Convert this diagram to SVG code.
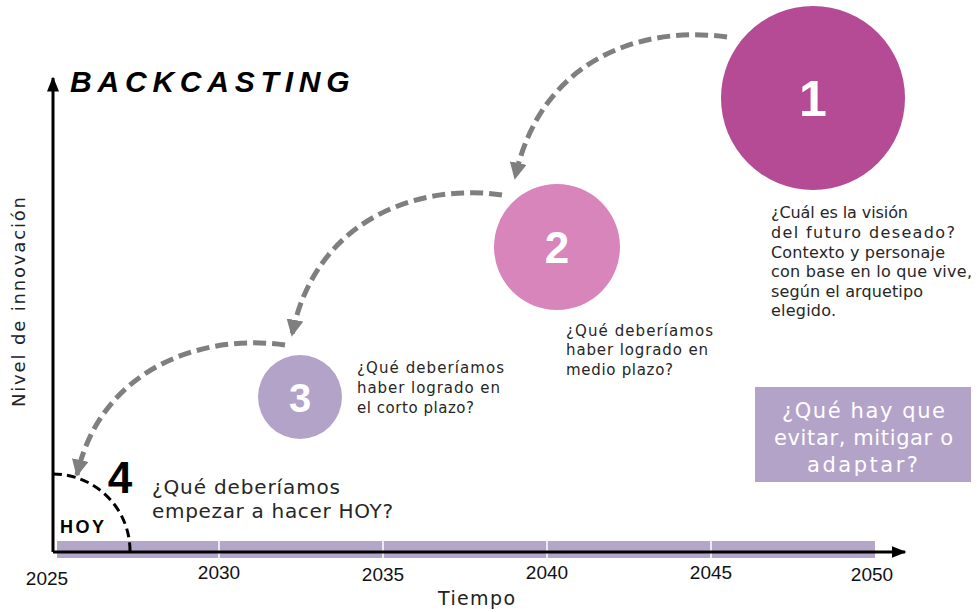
<svg xmlns="http://www.w3.org/2000/svg" width="978" height="612" viewBox="0 0 978 612">
<defs>
<style>
text{font-family:"Liberation Sans",Arial,sans-serif;}
text.dv,text.lbl{font-family:"DejaVu Sans","Liberation Sans",sans-serif;}
.lbl{fill:#262626;font-size:15px;}
.yr{fill:#111;font-size:19px;text-anchor:middle;}
.num{fill:#fff;font-weight:bold;text-anchor:middle;}
.arc{fill:none;stroke:#7f7f7f;stroke-width:5;stroke-dasharray:13 6;}
</style>
<marker id="ah" viewBox="0 0 10 10" refX="9" refY="5" markerWidth="3.4" markerHeight="3.4" orient="auto" markerUnits="strokeWidth">
<path d="M0,0 L10,5 L0,10 Z" fill="#7f7f7f"/>
</marker>
<marker id="ax" viewBox="0 0 10 10" refX="9" refY="5" markerWidth="5" markerHeight="5" orient="auto" markerUnits="strokeWidth">
<path d="M0,1 L10,5 L0,9 Z" fill="#000"/>
</marker>
</defs>
<rect width="978" height="612" fill="#fff"/>

<g id="timeline">
<rect x="57" y="541" width="818" height="17" fill="#b4a6c8"/>
<g stroke="#fff" stroke-width="1.5">
<line x1="219" y1="541" x2="219" y2="558"/>
<line x1="383" y1="541" x2="383" y2="558"/>
<line x1="547" y1="541" x2="547" y2="558"/>
<line x1="711" y1="541" x2="711" y2="558"/>
</g>
<line x1="53" y1="552" x2="905" y2="552" stroke="#000" stroke-width="3" marker-end="url(#ax)"/>
<line x1="53" y1="552" x2="53" y2="78" stroke="#000" stroke-width="3" marker-end="url(#ax)"/>
<text class="yr" x="47" y="585">2025</text>
<text class="yr" x="219" y="579">2030</text>
<text class="yr" x="383" y="581">2035</text>
<text class="yr" x="547" y="579">2040</text>
<text class="yr" x="711" y="579">2045</text>
<text class="yr" x="872" y="581">2050</text>
<text class="dv" x="438" y="605" font-size="19" fill="#222" textLength="77">Tiempo</text>
<text class="dv" transform="translate(25,407) rotate(-90)" font-size="18" fill="#222" textLength="210">Nivel de innovación</text>
</g>

<text id="title" x="70" y="92" font-size="30" font-weight="bold" font-style="italic" letter-spacing="5.8" fill="#000">BACKCASTING</text>

<g id="connectors">
<path class="arc" d="M727,37 C640,25 540,60 515,178" marker-end="url(#ah)"/>
<path class="arc" d="M502,195 C420,183 315,218 292,335" marker-end="url(#ah)"/>
<path class="arc" d="M285,345 C200,333 100,370 77,475" marker-end="url(#ah)"/>
</g>

<g id="node1">
<circle cx="813" cy="98" r="92" fill="#b54b94"/>
<text class="num" x="813" y="116" font-size="50">1</text>
<text class="lbl" style="font-size:16px">
<tspan x="771" y="218" textLength="137">¿Cuál es la visión</tspan>
<tspan x="771" y="238" textLength="184">del futuro deseado?</tspan>
<tspan x="771" y="258" textLength="174">Contexto y personaje</tspan>
<tspan x="771" y="277" textLength="201">con base en lo que vive,</tspan>
<tspan x="771" y="297" textLength="152">según el arquetipo</tspan>
<tspan x="771" y="316" textLength="65">elegido.</tspan>
</text>
</g>

<g id="node2">
<circle cx="557" cy="247" r="63" fill="#d785bb"/>
<text class="num" x="557" y="263" font-size="44">2</text>
<text class="lbl">
<tspan x="566" y="336" textLength="147">¿Qué deberíamos</tspan>
<tspan x="566" y="355" textLength="142">haber logrado en</tspan>
<tspan x="566" y="375" textLength="107">medio plazo?</tspan>
</text>
</g>

<g id="node3">
<circle cx="300" cy="397" r="42" fill="#b4a3c8"/>
<text class="num" x="300" y="412" font-size="40">3</text>
<text class="lbl">
<tspan x="357" y="373" textLength="147">¿Qué deberíamos</tspan>
<tspan x="357" y="393" textLength="143">haber logrado en</tspan>
<tspan x="357" y="413" textLength="117">el corto plazo?</tspan>
</text>
</g>

<g id="node4">
<path d="M53,474 A77,77 0 0 1 130,551" fill="none" stroke="#000" stroke-width="3" stroke-dasharray="9 5"/>
<text x="120" y="493" font-size="44" font-weight="bold" fill="#000" text-anchor="middle">4</text>
<text x="60" y="533" font-size="18" font-weight="bold" fill="#000" textLength="44">HOY</text>
<text class="dv" fill="#262626" font-size="20">
<tspan x="152" y="494" textLength="188">¿Qué deberíamos</tspan>
<tspan x="152" y="518" textLength="241">empezar a hacer HOY?</tspan>
</text>
</g>

<g id="box">
<rect x="755" y="387" width="216" height="95" fill="#b4a3c8"/>
<text class="dv" fill="#fff" font-size="21">
<tspan x="782" y="418" textLength="163">¿Qué hay que</tspan>
<tspan x="774" y="445" textLength="179">evitar, mitigar o</tspan>
<tspan x="807" y="472" textLength="111">adaptar?</tspan>
</text>
</g>
</svg>
